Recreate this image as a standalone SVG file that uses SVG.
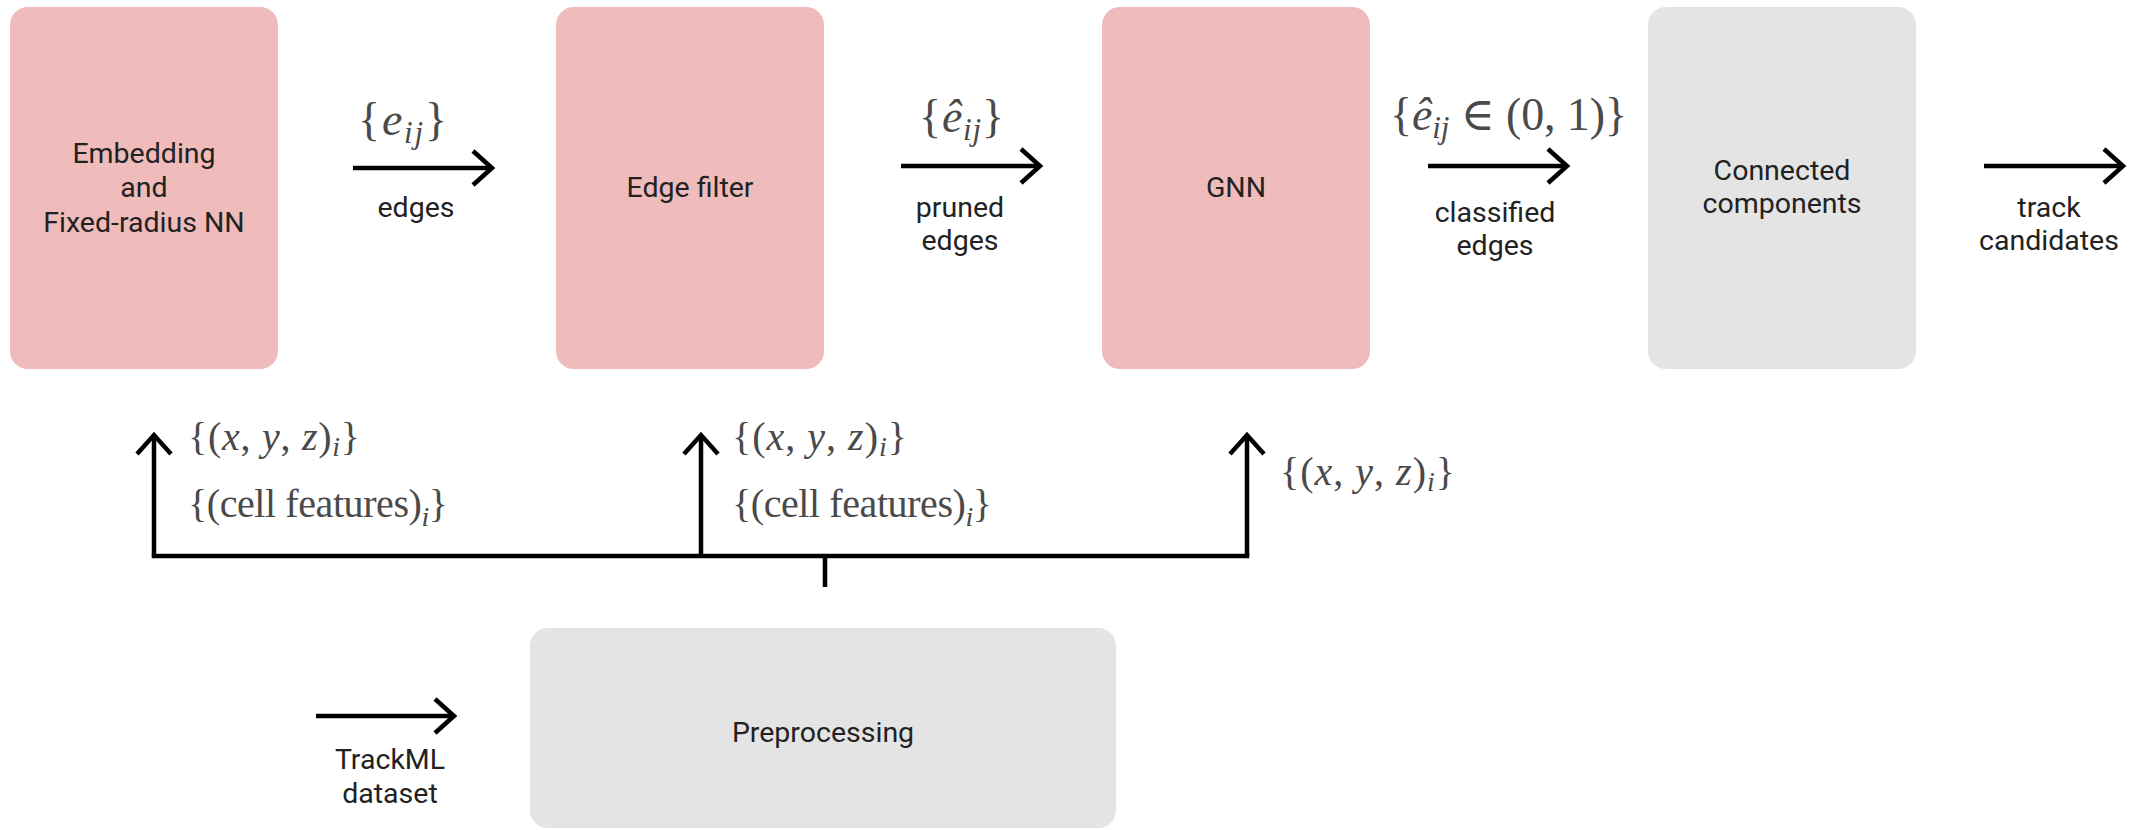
<svg xmlns="http://www.w3.org/2000/svg" width="2148" height="830" viewBox="0 0 2148 830">
<style>
.pink{fill:#EFBBBB}
.gray{fill:#E4E4E4}
.t{font-family:Roboto,"Liberation Sans",sans-serif;font-size:28.5px;fill:#222;text-anchor:middle}
.m{font-family:"Liberation Serif","DejaVu Serif",serif;fill:#4a4a4a}
.mt{font-size:46px}
.mb{font-size:40px}
.it{font-style:italic}
.c{fill:none;stroke:#000;stroke-width:4.5}
</style>
<defs>
<marker id="ah" markerUnits="userSpaceOnUse" markerWidth="40" markerHeight="44" viewBox="-28 -22 34 44" refX="0" refY="0" orient="auto">
<path d="M-19,-17 L0,0 L-19,17" fill="none" stroke="#000" stroke-width="4.5"/>
</marker>
</defs>
<rect width="2148" height="830" fill="#fff"/>
<g id="node-embedding">
<rect class="pink" x="10" y="7" width="268" height="362" rx="18"/>
<text class="t" x="144" y="163">Embedding</text>
<text class="t" x="144" y="197">and</text>
<text class="t" x="144" y="232">Fixed-radius NN</text>
</g>
<g id="node-edgefilter">
<rect class="pink" x="556" y="7" width="268" height="362" rx="18"/>
<text class="t" x="690" y="197">Edge filter</text>
</g>
<g id="node-gnn">
<rect class="pink" x="1102" y="7" width="268" height="362" rx="18"/>
<text class="t" x="1236" y="197">GNN</text>
</g>
<g id="node-cc">
<rect class="gray" x="1648" y="7" width="268" height="362" rx="18"/>
<text class="t" x="1782" y="180">Connected</text>
<text class="t" x="1782" y="213">components</text>
</g>
<g id="node-preprocessing">
<rect class="gray" x="530" y="628" width="586" height="200" rx="18"/>
<text class="t" x="823" y="742">Preprocessing</text>
</g>
<g id="connectors">
<path class="c" d="M353,168 H492" marker-end="url(#ah)"/>
<path class="c" d="M901,166 H1040" marker-end="url(#ah)"/>
<path class="c" d="M1428,166 H1567" marker-end="url(#ah)"/>
<path class="c" d="M1984,166 H2123" marker-end="url(#ah)"/>
<path class="c" d="M316,716 H454" marker-end="url(#ah)"/>
<path class="c" d="M154,556 H1247" stroke-linecap="square"/>
<path class="c" d="M154,556 V435" marker-end="url(#ah)"/>
<path class="c" d="M701,556 V435" marker-end="url(#ah)"/>
<path class="c" d="M1247,556 V435" marker-end="url(#ah)"/>
<path class="c" d="M825,556 V587"/>
</g>
<g id="labels">
<text class="t" x="416" y="217">edges</text>
<text class="t" x="960" y="217">pruned</text>
<text class="t" x="960" y="250">edges</text>
<text class="t" x="1495" y="222">classified</text>
<text class="t" x="1495" y="255">edges</text>
<text class="t" x="2049" y="217">track</text>
<text class="t" x="2049" y="250">candidates</text>
<text class="t" x="390" y="769">TrackML</text>
<text class="t" x="390" y="803">dataset</text>
<text class="m mt" x="358" y="135" textLength="89">{<tspan class="it">e</tspan><tspan class="it" font-size="31" dy="8">ij</tspan><tspan dy="-8">}</tspan></text>
<text class="m mt" x="919" y="132" textLength="85">{<tspan class="it">ê</tspan><tspan class="it" font-size="31" dy="8">ij</tspan><tspan dy="-8">}</tspan></text>
<text class="m mt" x="1390" y="130" textLength="237">{<tspan class="it">ê</tspan><tspan class="it" font-size="31" dy="8">ij</tspan><tspan dy="-8"> ∈ (0, 1)}</tspan></text>
<text class="m mb" x="188" y="450" textLength="172">{(<tspan class="it">x</tspan>, <tspan class="it">y</tspan>, <tspan class="it">z</tspan>)<tspan class="it" font-size="28" dy="6">i</tspan><tspan dy="-6">}</tspan></text>
<text class="m mb" x="188" y="517" textLength="260">{(cell features)<tspan class="it" font-size="28" dy="9">i</tspan><tspan dy="-9">}</tspan></text>
<text class="m mb" x="732" y="450" textLength="175">{(<tspan class="it">x</tspan>, <tspan class="it">y</tspan>, <tspan class="it">z</tspan>)<tspan class="it" font-size="28" dy="6">i</tspan><tspan dy="-6">}</tspan></text>
<text class="m mb" x="732" y="517" textLength="260">{(cell features)<tspan class="it" font-size="28" dy="9">i</tspan><tspan dy="-9">}</tspan></text>
<text class="m mb" x="1280" y="485" textLength="175">{(<tspan class="it">x</tspan>, <tspan class="it">y</tspan>, <tspan class="it">z</tspan>)<tspan class="it" font-size="28" dy="6">i</tspan><tspan dy="-6">}</tspan></text>
</g>
</svg>
